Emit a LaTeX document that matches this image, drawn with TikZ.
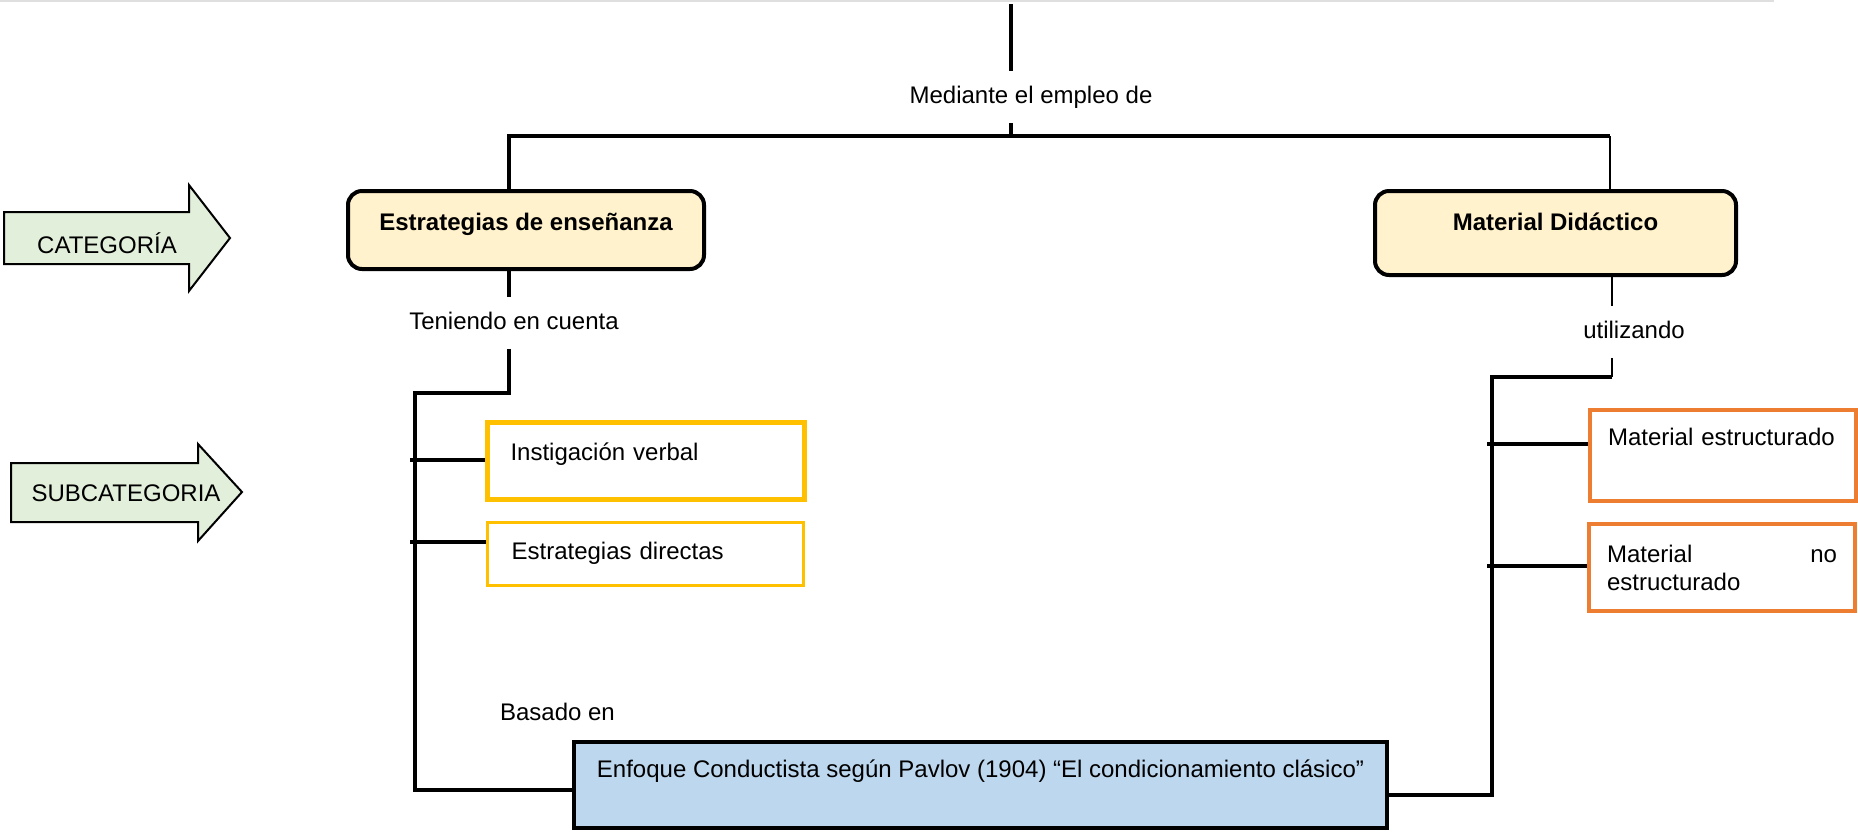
\documentclass[tikz,border=0pt]{standalone}
\usepackage{fontspec}
\setmainfont{Liberation Sans}
\usepackage{tikz}

\definecolor{catfill}{HTML}{FFF2CC}
\definecolor{gold}{HTML}{FFC000}
\definecolor{orangeline}{HTML}{ED7D31}
\definecolor{bluefill}{HTML}{BDD7EE}
\definecolor{tagfill}{HTML}{E2EFDA}

\begin{document}
\begin{tikzpicture}[x=0.5pt, y=-0.5pt,
    every node/.style={font=\fontsize{12pt}{13.8pt}\selectfont},
    cat/.style={draw, rounded corners=7pt, line width=2pt, fill=catfill,
        font=\fontsize{12pt}{13.8pt}\selectfont\bfseries, text height=9pt},
    sub/.style={draw, anchor=north west, align=left, text height=9pt},
    lbl/.style={inner ysep=7pt, text height=9pt, text depth=2.5pt},
    tag/.style={draw, line width=1pt, fill=tagfill},
    link/.style={line width=1.7pt},
    thin link/.style={line width=0.8pt}]
    \useasboundingbox (0,0) rectangle (1858,832);
    \draw[gray!25, line width=1pt] (0,1) -- (1774,1);

    % Tags
    \draw[tag] (4,212) -- (189,212) -- (189,185) -- (230,238) -- (189,291) -- (189,264) -- (4,264) -- cycle;
    \node (cattag) at (107,243) {CATEGORÍA};
    \draw[tag] (11,463) -- (198,463) -- (198,444) -- (242,492) -- (198,541) -- (198,522) -- (11,522) -- cycle;
    \node (subtag) at (126,493) {SUBCATEGORIA};

    % Categories
    \node[cat, minimum width=178pt, minimum height=39pt, text depth=8.4pt]
        (estr) at (526,230) {Estrategias de enseñanza};
    \node[cat, minimum width=180.5pt, minimum height=42pt, text depth=11.4pt]
        (mat) at (1555.5,233) {Material Didáctico};

    % Subcategories
    \node[sub, draw=gold, line width=2.5pt, inner xsep=11.5pt, text width=135.5pt,
        minimum height=38.5pt, text depth=9.9pt] (instig) at (485,420) {Instigación verbal};
    \node[sub, draw=gold, line width=1.6pt, inner xsep=12pt, text width=134pt,
        minimum height=31.5pt, text depth=3.9pt] (direct) at (486,521) {Estrategias directas};
    \node[sub, draw=orangeline, line width=2pt, inner xsep=9pt, text width=115pt,
        minimum height=45.5pt, text depth=18.9pt] (estruc) at (1588,408) {Material estructurado};
    \node[sub, draw=orangeline, line width=2pt, inner xsep=9pt, text width=115pt,
        minimum height=43.5pt] (noestruc) at (1587,522) {Material \hfill no\\estructurado};

    % Base
    \node[draw, line width=2pt, fill=bluefill, minimum width=406.5pt, minimum height=43pt,
        text height=9pt, text depth=16.4pt] (enfoque) at (980.5,785)
        {Enfoque Conductista según Pavlov (1904) “El condicionamiento clásico”};

    % Labels
    \node[lbl] (medio) at (1031,97) {Mediante el empleo de};
    \node[lbl] (tener) at (514,323) {Teniendo en cuenta};
    \node[lbl] (util) at (1634,332) {utilizando};
    \node[anchor=west] (basado) at (493,712) {Basado en};

    % Connectors
    \coordinate (top) at (1011,4);
    \coordinate (barL) at (509,136);
    \coordinate (barR) at (1610,136);
    \draw[link] (top) -- (top |- medio.north);
    \draw[link] (top |- medio.south) -- (top |- barL);
    \draw[link] (barL |- estr.north) -- (barL) -- (barR);
    \draw[thin link] (barR) -- (barR |- mat.north);

    \coordinate (lspine) at (415,393);
    \coordinate (lbot) at (415,790);
    \draw[link] (barL |- estr.south) -- (barL |- tener.north);
    \draw[link] (barL |- tener.south) |- (lspine) -- (lbot) -- (lbot -| enfoque.west);

    \coordinate (rtop) at (1612,377);
    \coordinate (rspine) at (1492,377);
    \coordinate (rbot) at (1492,795);
    \draw[thin link] (rtop |- mat.south) -- (rtop |- util.north);
    \draw[thin link] (rtop |- util.south) -- (rtop);
    \draw[link] (rtop) -- (rspine) -- (rbot) -- (rbot -| enfoque.east);

    \foreach \name/\x/\y/\target in {lt1/415/460/instig, lt2/415/542/direct,
        rt1/1492/444/estruc, rt2/1492/566/noestruc} {
        \coordinate (\name) at (\x,\y);
        \draw[link] (\name) ++(-5,0) -- (\name -| \target.west);
    }
\end{tikzpicture}
\end{document}
